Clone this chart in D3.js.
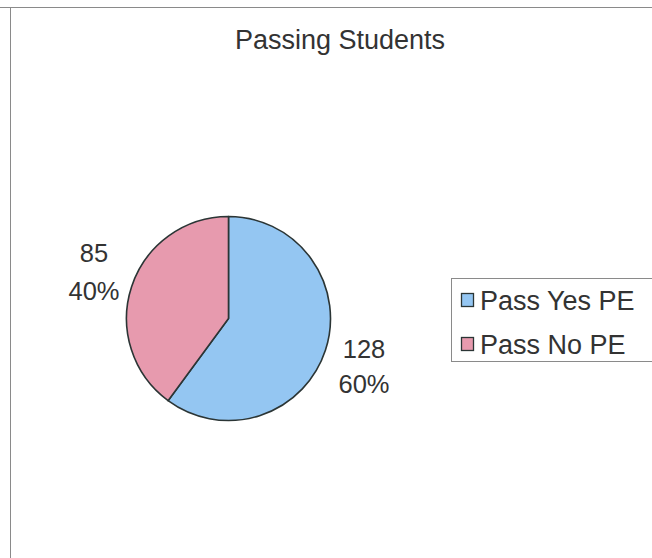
<!DOCTYPE html>
<html><head><meta charset="utf-8">
<script src="https://cdn.jsdelivr.net/npm/d3@7"></script>
<style>html,body{margin:0;padding:0;background:#fff;}svg{display:block;}</style>
</head><body>
<script>
const title = "Passing Students";
const categories = ["Pass Yes PE", "Pass No PE"];
const values = [128, 85];
const colors = ["#94c6f2", "#e79aae"];

const W = 652, H = 558;
const svg = d3.select("body").append("svg").attr("width", W).attr("height", H);
svg.append("rect").attr("width", W).attr("height", H).attr("fill", "#fff");

// frame
svg.append("line").attr("x1", 0).attr("x2", W).attr("y1", 7.5).attr("y2", 7.5).attr("stroke", "#8a8a8a").attr("stroke-width", 1);
svg.append("line").attr("x1", 10.5).attr("x2", 10.5).attr("y1", 7.5).attr("y2", H).attr("stroke", "#8a8a8a").attr("stroke-width", 1);

const font = "'Liberation Sans', Arial, sans-serif";
svg.append("text").attr("x", 340).attr("y", 49).attr("text-anchor", "middle")
  .attr("font-family", font).attr("font-size", 27).attr("fill", "#333").text(title);

const cx = 228.5, cy = 318.5, r = 102;
const pie = d3.pie().sort(null).startAngle(0).endAngle(2 * Math.PI);
const arcs = pie(values);
const arc = d3.arc().innerRadius(0).outerRadius(r);
const g = svg.append("g").attr("transform", `translate(${cx},${cy})`);
g.selectAll("path").data(arcs).join("path")
  .attr("d", arc).attr("fill", (d, i) => colors[i])
  .attr("stroke", "#2b3535").attr("stroke-width", 1.6).attr("stroke-linejoin", "round");

const total = d3.sum(values);
const fmt = d3.format(".0%");
const labelPos = [[364, 358, 393], [94, 262, 300]];
arcs.forEach((d, i) => {
  const [x, y1, y2] = labelPos[i];
  const t = svg.append("text").attr("text-anchor", "middle").attr("font-family", font)
    .attr("font-size", 25.5).attr("fill", "#333");
  t.append("tspan").attr("x", x).attr("y", y1).text(values[i]);
  t.append("tspan").attr("x", x).attr("y", y2).text(fmt(values[i] / total));
});

// legend
const lg = svg.append("g");
lg.append("rect").attr("x", 451.5).attr("y", 278.5).attr("width", 220).attr("height", 83)
  .attr("fill", "#fff").attr("stroke", "#8a8a8a").attr("stroke-width", 1);
categories.forEach((c, i) => {
  const y = 293 + i * 44;
  lg.append("rect").attr("x", 461.5).attr("y", y + 0.5).attr("width", 12).attr("height", 13)
    .attr("fill", colors[i]).attr("stroke", "#2b3535").attr("stroke-width", 1.3);
  lg.append("text").attr("x", 480).attr("y", y + 17).attr("font-family", font)
    .attr("font-size", 27).attr("fill", "#333").text(c);
});
</script>
</body></html>
